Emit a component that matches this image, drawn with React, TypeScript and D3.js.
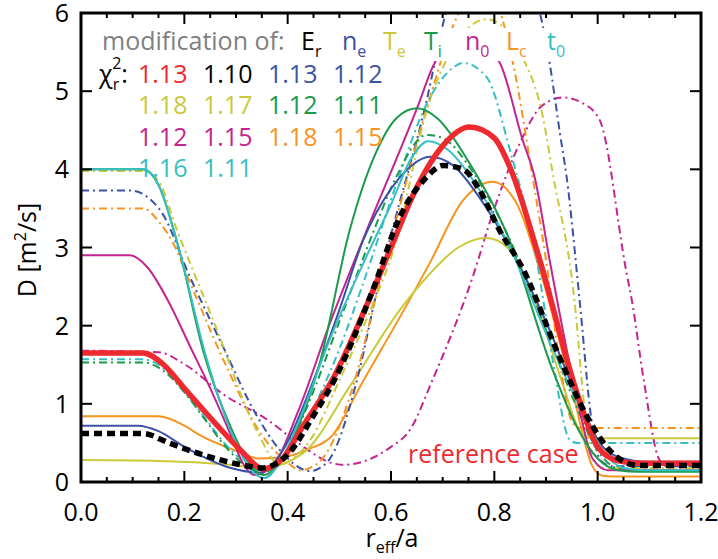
import React from 'react';
import * as d3 from 'd3';

type P = [number, number];

// ---------- data ----------
const xTicks = [0, 0.2, 0.4, 0.6, 0.8, 1.0, 1.2];
const yTicks = [0, 1, 2, 3, 4, 5, 6];

// reference case (red, thick)
const refCase: P[] = [[0,1.65],[0.12,1.65],[0.16,1.5],[0.2,1.2],[0.26,0.75],[0.31,0.4],[0.352,0.17],[0.39,0.3],[0.43,0.72],[0.49,1.35],[0.56,2.37],[0.6,3.0],[0.65,3.77],[0.7,4.3],[0.752,4.54],[0.8,4.4],[0.83,4.03],[0.888,2.84],[0.96,1.14],[1.0,0.45],[1.04,0.27],[1.08,0.24],[1.2,0.24]];
// E_r modification (black dotted)
const erMod: P[] = [[0,0.62],[0.12,0.62],[0.17,0.5],[0.23,0.36],[0.31,0.22],[0.35,0.18],[0.4,0.35],[0.45,0.85],[0.49,1.3],[0.565,2.46],[0.617,3.39],[0.669,3.9],[0.7,4.05],[0.74,4.0],[0.77,3.75],[0.81,3.22],[0.855,2.73],[0.926,1.6],[0.98,0.83],[1.037,0.32],[1.08,0.21],[1.2,0.21]];
// n_e
const neSolid: P[] = [[0,0.72],[0.11,0.72],[0.15,0.65],[0.2,0.45],[0.29,0.18],[0.346,0.12],[0.39,0.4],[0.45,1.3],[0.5,2.2],[0.546,3.09],[0.6,3.75],[0.64,4.05],[0.675,4.16],[0.72,4.05],[0.77,3.65],[0.83,3.0],[0.9,2.05],[0.96,1.1],[1.01,0.45],[1.05,0.3],[1.09,0.26],[1.2,0.26]];
const neDashDot: P[] = [[0,3.73],[0.095,3.73],[0.153,3.48],[0.211,2.62],[0.275,1.73],[0.34,0.85],[0.4,0.3],[0.443,0.14],[0.476,0.25],[0.534,1.3],[0.573,2.45],[0.604,3.26],[0.669,4.88],[0.704,5.95],[0.8,7.2],[0.89,5.95],[0.907,5.36],[0.927,4.46],[0.94,3.9],[0.965,2.33],[0.988,0.79],[1.005,0.28],[1.03,0.2],[1.2,0.2]];
// T_e
const teSolid: P[] = [[0,0.28],[0.15,0.27],[0.29,0.22],[0.35,0.18],[0.43,0.37],[0.52,1.22],[0.617,2.2],[0.669,2.62],[0.73,3.0],[0.785,3.12],[0.83,2.97],[0.88,2.3],[0.93,1.3],[0.965,0.66],[0.98,0.57],[1.0,0.56],[1.2,0.56]];
const teDashDot: P[] = [[0,3.98],[0.12,3.98],[0.15,3.85],[0.186,3.22],[0.26,2.0],[0.34,0.66],[0.385,0.22],[0.41,0.3],[0.44,0.5],[0.5,1.3],[0.56,2.2],[0.604,2.95],[0.675,4.88],[0.72,5.55],[0.785,5.92],[0.82,5.8],[0.855,5.43],[0.894,4.67],[0.913,3.95],[0.955,2.33],[0.975,0.92],[0.99,0.3],[1.01,0.18],[1.2,0.18]];
// T_i
const tiSolid: P[] = [[0,4.0],[0.12,4.0],[0.15,3.8],[0.19,2.97],[0.236,1.69],[0.29,0.7],[0.33,0.2],[0.352,0.09],[0.38,0.2],[0.42,0.7],[0.462,1.52],[0.52,3.22],[0.57,4.2],[0.61,4.65],[0.65,4.78],[0.69,4.65],[0.75,4.1],[0.824,3.18],[0.913,1.43],[0.96,0.7],[1.0,0.3],[1.04,0.15],[1.08,0.13],[1.2,0.13]];
const tiDashDot: P[] = [[0,1.53],[0.12,1.53],[0.16,1.42],[0.2,1.15],[0.24,0.8],[0.28,0.45],[0.32,0.2],[0.35,0.12],[0.39,0.3],[0.44,1.0],[0.5,2.05],[0.56,3.1],[0.61,3.9],[0.669,4.44],[0.7,4.4],[0.76,3.95],[0.83,3.1],[0.9,1.95],[0.96,0.95],[1.0,0.4],[1.04,0.17],[1.08,0.14],[1.2,0.14]];
// n_0
const n0Solid: P[] = [[0,2.9],[0.095,2.9],[0.128,2.75],[0.17,2.3],[0.21,1.75],[0.25,1.2],[0.29,0.6],[0.315,0.22],[0.335,0.09],[0.37,0.2],[0.42,0.9],[0.48,2.0],[0.553,3.22],[0.656,4.88],[0.68,5.3],[0.745,5.75],[0.81,5.37],[0.855,4.37],[0.878,3.9],[0.907,2.84],[0.965,0.92],[0.99,0.3],[1.02,0.15],[1.2,0.15]];
const n0DashDot: P[] = [[0,1.68],[0.15,1.66],[0.197,1.52],[0.28,1.1],[0.36,0.8],[0.42,0.5],[0.487,0.24],[0.51,0.22],[0.55,0.27],[0.6,0.45],[0.636,0.66],[0.68,1.3],[0.758,2.62],[0.797,3.44],[0.849,4.33],[0.89,4.8],[0.932,4.92],[0.97,4.85],[1.004,4.63],[1.056,2.67],[1.066,2.33],[1.09,1.27],[1.12,0.28],[1.14,0.2],[1.2,0.2]];
// L_c
const lcSolid: P[] = [[0,0.84],[0.15,0.84],[0.2,0.72],[0.23,0.6],[0.3,0.4],[0.346,0.3],[0.4,0.33],[0.44,0.42],[0.487,0.6],[0.54,1.22],[0.636,2.33],[0.675,2.8],[0.739,3.6],[0.797,3.84],[0.84,3.6],[0.894,2.58],[0.952,1.14],[0.99,0.2],[1.01,0.08],[1.03,0.07],[1.2,0.07]];
const lcDashDot: P[] = [[0,3.5],[0.12,3.5],[0.153,3.31],[0.178,3.06],[0.211,2.55],[0.28,1.5],[0.35,0.6],[0.4,0.25],[0.424,0.15],[0.46,0.25],[0.53,1.3],[0.57,2.35],[0.6,3.1],[0.67,4.8],[0.729,5.97],[0.78,6.4],[0.836,5.36],[0.874,3.9],[0.9,2.84],[0.926,1.56],[0.952,0.75],[0.97,0.69],[1.2,0.69]];
// t_0
const t0Solid: P[] = [[0,4.0],[0.12,4.0],[0.15,3.8],[0.19,2.97],[0.24,1.65],[0.29,0.65],[0.33,0.15],[0.355,0.05],[0.38,0.2],[0.42,0.75],[0.48,1.8],[0.55,2.85],[0.6,3.55],[0.64,4.15],[0.672,4.36],[0.71,4.25],[0.76,3.85],[0.83,3.0],[0.91,1.75],[0.97,0.9],[1.01,0.4],[1.05,0.18],[1.09,0.15],[1.2,0.15]];
const t0DashDot: P[] = [[0,1.57],[0.12,1.57],[0.16,1.45],[0.2,1.15],[0.24,0.82],[0.28,0.48],[0.32,0.24],[0.35,0.15],[0.39,0.3],[0.45,0.95],[0.5,1.7],[0.546,2.54],[0.611,3.82],[0.67,4.85],[0.72,5.3],[0.739,5.36],[0.785,5.18],[0.83,4.25],[0.882,2.84],[0.913,1.56],[0.946,0.54],[0.96,0.5],[1.2,0.5]];

// legend
const paramNames = ['E', 'n', 'T', 'T', 'n', 'L', 't'];
const paramSubs = ['r', 'e', 'e', 'i', '0', 'c', '0'];
const chi2Values = ['1.13', '1.10', '1.13', '1.12', '1.18', '1.17', '1.12', '1.11', '1.12', '1.15', '1.18', '1.15', '1.16', '1.11'];

// ---------- styles ----------
const C = {
  red: '#ee2a2e',
  black: '#000000',
  blue: '#3c52a5',
  olive: '#c9c93a',
  green: '#1b9a4b',
  magenta: '#c4248f',
  orange: '#f7941d',
  teal: '#35bfc3',
};
const paramColors = [C.black, C.blue, C.olive, C.green, C.magenta, C.orange, C.teal];
const chi2Colors = [C.red, C.black, C.blue, C.blue, C.olive, C.olive, C.green, C.green, C.magenta, C.magenta, C.orange, C.orange, C.teal, C.teal];

const DASHDOT = '8,4,2,4';
const thinCurves = [
  { pts: n0DashDot, color: C.magenta, dash: DASHDOT },
  { pts: lcSolid, color: C.orange, dash: null },
  { pts: teSolid, color: C.olive, dash: null },
  { pts: neDashDot, color: C.blue, dash: DASHDOT },
  { pts: lcDashDot, color: C.orange, dash: DASHDOT },
  { pts: teDashDot, color: C.olive, dash: DASHDOT },
  { pts: t0DashDot, color: C.teal, dash: DASHDOT },
  { pts: tiDashDot, color: C.green, dash: DASHDOT },
  { pts: n0Solid, color: C.magenta, dash: null },
  { pts: neSolid, color: C.blue, dash: null },
  { pts: tiSolid, color: C.green, dash: null },
  { pts: t0Solid, color: C.teal, dash: null },
];

const FONT = "'Open Sans', sans-serif";
const L = 81, R = 701, T = 13, B = 482;

export default function App() {
  const x = d3.scaleLinear().domain([0, 1.2]).range([L, R]);
  const y = d3.scaleLinear().domain([0, 6]).range([B, T]);
  const line = d3.line<P>().x(d => x(d[0])).y(d => y(d[1])).curve(d3.curveMonotoneX);
  const xMinor = d3.range(0, 1.2001, 0.05);

  return (
    <svg width={718} height={559} style={{ position: 'absolute', left: 0, top: 0, background: '#fff' }} fontFamily={FONT}>
      <defs>
        <clipPath id="plot"><rect x={L} y={T} width={R - L} height={B - T} /></clipPath>
      </defs>
      <rect x={0} y={0} width={718} height={559} fill="#fff" />
      <g clipPath="url(#plot)">
        {thinCurves.map((c, i) => (
          <path key={i} d={line(c.pts) || ''} fill="none" stroke={c.color} strokeWidth={2}
            strokeDasharray={c.dash || undefined} strokeLinejoin="round" />
        ))}
        <path d={line(refCase) || ''} fill="none" stroke={C.red} strokeWidth={5.5} strokeLinejoin="round" />
        <path d={line(erMod) || ''} fill="none" stroke={C.black} strokeWidth={5.5} strokeDasharray="8,5" />
      </g>
      {/* legend background strip */}
      <rect x={95} y={28} width={485} height={33} fill="#fff" />
      {/* axes frame */}
      <rect x={L} y={T} width={R - L} height={B - T} fill="none" stroke="#000" strokeWidth={3} />
      {xMinor.map((v, i) => {
        const major = Math.abs(v / 0.2 - Math.round(v / 0.2)) < 1e-6;
        const len = major ? 11 : 5;
        return (
          <g key={i}>
            <line x1={x(v)} x2={x(v)} y1={B} y2={B - len} stroke="#000" strokeWidth={2} />
            <line x1={x(v)} x2={x(v)} y1={T} y2={T + len} stroke="#000" strokeWidth={2} />
          </g>
        );
      })}
      {yTicks.map((v, i) => (
        <g key={i}>
          <line x1={L} x2={L + 11} y1={y(v)} y2={y(v)} stroke="#000" strokeWidth={2} />
          <line x1={R} x2={R - 11} y1={y(v)} y2={y(v)} stroke="#000" strokeWidth={2} />
          <text x={69} y={y(v) + 9} textAnchor="end" fontSize={25}>{v}</text>
        </g>
      ))}
      {xTicks.map((v, i) => (
        <text key={i} x={x(v)} y={521} textAnchor="middle" fontSize={25}>{v.toFixed(1)}</text>
      ))}
      {/* axis titles */}
      <text x={392} y={547} textAnchor="middle" fontSize={25}>
        r<tspan fontSize={16} dy={6}>eff</tspan><tspan dy={-6}>/a</tspan>
      </text>
      <text transform="translate(36,250) rotate(-90)" textAnchor="middle" fontSize={25}>
        D [m<tspan fontSize={16} dy={-10}>2</tspan><tspan dy={10}>/s]</tspan>
      </text>
      {/* legend */}
      <text x={102} y={50} fontSize={25} fill="#808080">modification of:</text>
      {paramNames.map((n, i) => (
        <text key={i} x={301 + i * 41} y={50} fontSize={25} fill={paramColors[i]}>
          {n}<tspan fontSize={16} dy={7}>{paramSubs[i]}</tspan>
        </text>
      ))}
      <text x={99} y={83} fontSize={25}>
        χ<tspan fontSize={16} dy={7}>r</tspan><tspan fontSize={16} dx={-7} dy={-21}>2</tspan><tspan dy={14}>:</tspan>
      </text>
      {chi2Values.map((v, i) => (
        <text key={i} x={138 + (i % 4) * 65} y={83 + Math.floor(i / 4) * 31.3} fontSize={25} fill={chi2Colors[i]}>{v}</text>
      ))}
      <text x={408} y={463} fontSize={25} fill={C.red}>reference case</text>
    </svg>
  );
}
